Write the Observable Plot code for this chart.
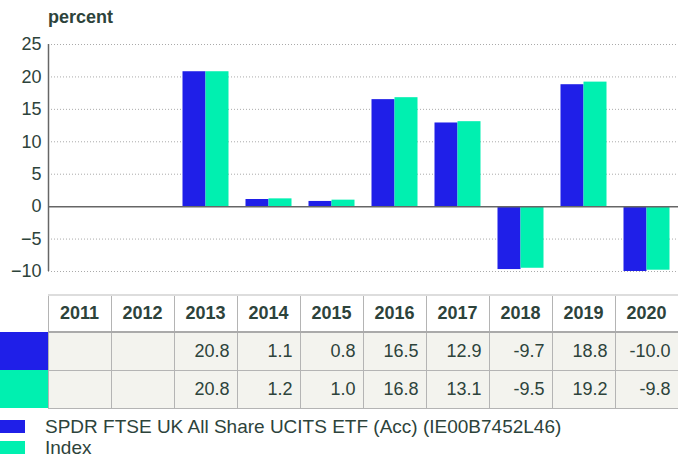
<!DOCTYPE html>
<html><head><meta charset="utf-8">
<script src="https://cdn.jsdelivr.net/npm/d3@7"></script>
<script src="https://cdn.jsdelivr.net/npm/@observablehq/plot@0.6"></script>
<style>
html,body{margin:0;padding:0;background:#fff;}
body{width:678px;height:456px;overflow:hidden;font-family:"Liberation Sans",Arial,sans-serif;color:#2d433b;}
#title{height:30px;box-sizing:border-box;padding-left:48px;padding-top:7px;font-size:18px;font-weight:bold;line-height:20px;}
table{border-collapse:collapse;table-layout:fixed;width:678px;font-size:18px;}
td,th{box-sizing:border-box;padding:0 7px 0 0;border:1px solid #b4b4b4;}
th{height:37px;text-align:center;padding:0;font-weight:bold;background:#fff;border-top:2px solid #ddd;border-bottom:2px solid #aaa;}
td{height:38px;text-align:right;background:#f3f3ee;}
th.blank{border:none;border-right:1px solid #b4b4b4;}
td.sw{border:none;padding:0;}
#legend{margin-top:6px;font-size:19px;}
.li{display:flex;align-items:center;height:23px;line-height:23px;}
.li.last{height:20px;line-height:20px;}
.li span.s{width:25px;height:13px;margin-right:20px;display:inline-block;flex:none;}
</style></head>
<body>
<div id="title">percent</div>
<div id="chart"></div>
<div id="table"></div>
<div id="legend"></div>
<script>
const years = ["2011","2012","2013","2014","2015","2016","2017","2018","2019","2020"];
const fundValues = [null, null, 20.8, 1.1, 0.8, 16.5, 12.9, -9.7, 18.8, -10.0];
const indexValues = [null, null, 20.8, 1.2, 1.0, 16.8, 13.1, -9.5, 19.2, -9.8];
const seriesNames = ["SPDR FTSE UK All Share UCITS ETF (Acc) (IE00B7452L46)", "Index"];
const seriesColors = ["#1f1fe8", "#00f0b0"];
const yTicks = [-10, -5, 0, 5, 10, 15, 20, 25];

const fund = years.map((y, i) => ({year: y, value: fundValues[i]})).filter(d => d.value != null);
const idx = years.map((y, i) => ({year: y, value: indexValues[i]})).filter(d => d.value != null);

const chart = Plot.plot({
  width: 678, height: 264,
  marginLeft: 48, marginRight: 0, marginTop: 14, marginBottom: 23,
  style: {fontFamily: "'Liberation Sans', Arial, sans-serif", fontSize: "18px", color: "#2d433b", background: "#fff"},
  x: {type: "band", domain: years, padding: 0, axis: null},
  y: {domain: [-10, 25], ticks: yTicks, label: null},
  marks: [
    Plot.gridY(yTicks.filter(t => t !== 0), {stroke: "#aaa", strokeOpacity: 1, strokeDasharray: "1,2"}),
    Plot.axisY({ticks: yTicks, tickSize: 0, tickPadding: 7, label: null, fill: "#2d433b", fontSize: 18}),
    Plot.barY(fund, {x: "year", y: "value", fill: seriesColors[0], insetLeft: 8.5, insetRight: 31.5}),
    Plot.barY(idx, {x: "year", y: "value", fill: seriesColors[1], insetLeft: 31.5, insetRight: 8.5}),
    Plot.ruleY([0], {stroke: "#666", strokeWidth: 1.5}),
    Plot.ruleX([years[0]], {y1: -10, y2: 25, dx: -31.5, stroke: "#666", strokeWidth: 1.5})
  ]
});
document.getElementById("chart").appendChild(chart);

// table
const fmt = v => v == null ? "" : v.toFixed(1);
let html = '<table><colgroup><col style="width:48px">' + years.map(() => '<col style="width:63px">').join("") + '</colgroup>';
html += '<tr><th class="blank"></th>' + years.map(y => `<th>${y}</th>`).join("") + '</tr>';
html += `<tr><td class="sw" style="background:${seriesColors[0]}"></td>` + fundValues.map(v => `<td>${fmt(v)}</td>`).join("") + '</tr>';
html += `<tr><td class="sw" style="background:${seriesColors[1]}"></td>` + indexValues.map(v => `<td>${fmt(v)}</td>`).join("") + '</tr>';
html += '</table>';
document.getElementById("table").innerHTML = html;

document.getElementById("legend").innerHTML = seriesNames.map((n, i) =>
  `<div class="li${i === seriesNames.length - 1 ? " last" : ""}"><span class="s" style="background:${seriesColors[i]}"></span>${n}</div>`).join("");
</script>
</body></html>
